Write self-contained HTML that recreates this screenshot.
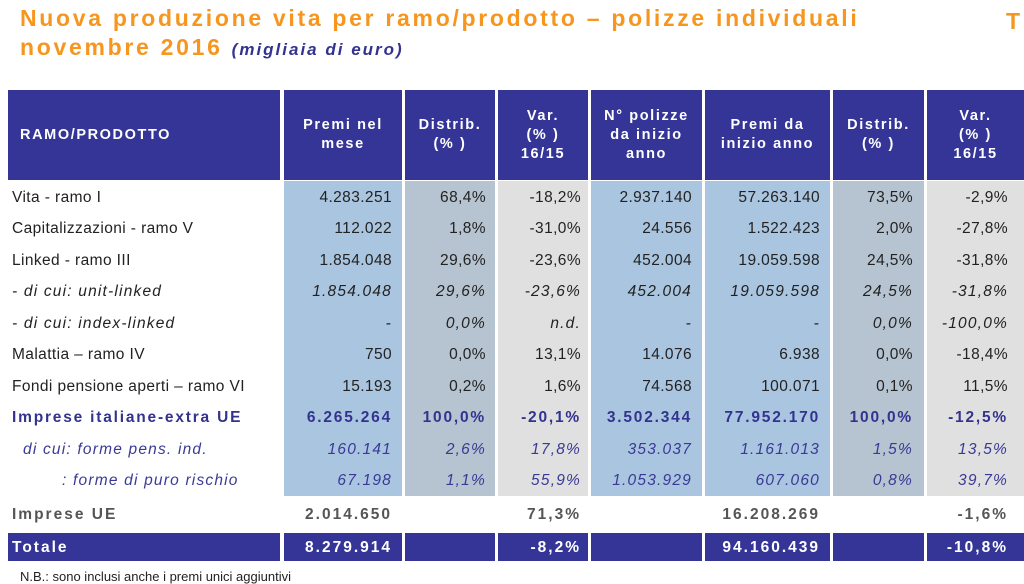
<!DOCTYPE html>
<html><head><meta charset="utf-8"><style>
body{margin:0;width:1024px;height:576px;overflow:hidden;background:#fff;font-family:"Liberation Sans",sans-serif;position:relative}
.t{position:absolute;left:20px;color:#f7961e;font-weight:bold;font-size:23px;letter-spacing:2.7px;white-space:nowrap}
.bg{position:absolute}
.h{position:absolute;top:90px;height:90px;background:#353597;color:#fff;font-weight:bold;font-size:14.5px;letter-spacing:1.6px;display:flex;align-items:center;justify-content:center;text-align:center;line-height:19px}
.r{position:absolute;left:0;width:1024px;height:31px;font-size:15.5px;color:#222;letter-spacing:0.4px}
.r span{position:absolute;top:0;line-height:31px;text-align:right;white-space:nowrap}
.c1{left:12px;text-align:left!important}
.c2{left:284px;width:108px}.c3{left:405px;width:81px}.c4{left:498px;width:83px}
.c5{left:591px;width:101px}.c6{left:705px;width:115px}.c7{left:833px;width:80px}.c8{left:927px;width:81px}
.it{font-style:italic;color:#222;letter-spacing:1.2px}
.bl{color:#33338f;font-weight:bold;letter-spacing:1.8px}
.bi{color:#3a3a96;font-style:italic;letter-spacing:1.2px}
.gr{color:#555;font-weight:bold;letter-spacing:2px}
.tot{color:#fff;font-weight:bold;letter-spacing:2px}
</style></head><body>
<div class="t" style="top:5px">Nuova produzione vita per ramo/prodotto – polizze individuali</div>
<div class="t" style="top:34px">novembre 2016 <span style="color:#33338f;font-style:italic;font-size:17px;letter-spacing:2px">(migliaia di euro)</span></div>
<div class="t" style="left:1006px;top:8px;letter-spacing:0">T</div>

<div class="h" style="left:8px;width:272px;justify-content:flex-start;padding-left:12px;box-sizing:border-box">RAMO/PRODOTTO</div>
<div class="h" style="left:284px;width:118px">Premi nel<br>mese</div>
<div class="h" style="left:405px;width:90px">Distrib.<br>(% )</div>
<div class="h" style="left:498px;width:90px">Var.<br>(% )<br>16/15</div>
<div class="h" style="left:591px;width:111px">N° polizze<br>da inizio<br>anno</div>
<div class="h" style="left:705px;width:125px">Premi da<br>inizio anno</div>
<div class="h" style="left:833px;width:91px">Distrib.<br>(% )</div>
<div class="h" style="left:927px;width:97px">Var.<br>(% )<br>16/15</div>

<div class="bg" style="left:284px;top:181px;width:118px;height:315px;background:#aac5df"></div>
<div class="bg" style="left:405px;top:181px;width:90px;height:315px;background:#b6c3d0"></div>
<div class="bg" style="left:498px;top:181px;width:90px;height:315px;background:#e0e0e0"></div>
<div class="bg" style="left:591px;top:181px;width:111px;height:315px;background:#aac5df"></div>
<div class="bg" style="left:705px;top:181px;width:125px;height:315px;background:#aac5df"></div>
<div class="bg" style="left:833px;top:181px;width:91px;height:315px;background:#b6c3d0"></div>
<div class="bg" style="left:927px;top:181px;width:97px;height:315px;background:#e0e0e0"></div>

<div class="bg" style="left:8px;top:533px;width:272px;height:28px;background:#353597"></div>
<div class="bg" style="left:284px;top:533px;width:118px;height:28px;background:#353597"></div>
<div class="bg" style="left:405px;top:533px;width:90px;height:28px;background:#353597"></div>
<div class="bg" style="left:498px;top:533px;width:90px;height:28px;background:#353597"></div>
<div class="bg" style="left:591px;top:533px;width:111px;height:28px;background:#353597"></div>
<div class="bg" style="left:705px;top:533px;width:125px;height:28px;background:#353597"></div>
<div class="bg" style="left:833px;top:533px;width:91px;height:28px;background:#353597"></div>
<div class="bg" style="left:927px;top:533px;width:97px;height:28px;background:#353597"></div>

<div class="r" style="top:182px"><span class="c1">Vita - ramo I</span><span class="c2">4.283.251</span><span class="c3">68,4%</span><span class="c4">-18,2%</span><span class="c5">2.937.140</span><span class="c6">57.263.140</span><span class="c7">73,5%</span><span class="c8">-2,9%</span></div>
<div class="r" style="top:213px"><span class="c1">Capitalizzazioni - ramo V</span><span class="c2">112.022</span><span class="c3">1,8%</span><span class="c4">-31,0%</span><span class="c5">24.556</span><span class="c6">1.522.423</span><span class="c7">2,0%</span><span class="c8">-27,8%</span></div>
<div class="r" style="top:245px"><span class="c1">Linked - ramo III</span><span class="c2">1.854.048</span><span class="c3">29,6%</span><span class="c4">-23,6%</span><span class="c5">452.004</span><span class="c6">19.059.598</span><span class="c7">24,5%</span><span class="c8">-31,8%</span></div>
<div class="r it" style="top:276px"><span class="c1">- di cui: unit-linked</span><span class="c2">1.854.048</span><span class="c3">29,6%</span><span class="c4">-23,6%</span><span class="c5">452.004</span><span class="c6">19.059.598</span><span class="c7">24,5%</span><span class="c8">-31,8%</span></div>
<div class="r it" style="top:308px"><span class="c1">- di cui: index-linked</span><span class="c2">-</span><span class="c3">0,0%</span><span class="c4">n.d.</span><span class="c5">-</span><span class="c6">-</span><span class="c7">0,0%</span><span class="c8">-100,0%</span></div>
<div class="r" style="top:339px"><span class="c1">Malattia – ramo IV</span><span class="c2">750</span><span class="c3">0,0%</span><span class="c4">13,1%</span><span class="c5">14.076</span><span class="c6">6.938</span><span class="c7">0,0%</span><span class="c8">-18,4%</span></div>
<div class="r" style="top:371px"><span class="c1">Fondi pensione aperti – ramo VI</span><span class="c2">15.193</span><span class="c3">0,2%</span><span class="c4">1,6%</span><span class="c5">74.568</span><span class="c6">100.071</span><span class="c7">0,1%</span><span class="c8">11,5%</span></div>
<div class="r bl" style="top:402px"><span class="c1">Imprese italiane-extra UE</span><span class="c2">6.265.264</span><span class="c3">100,0%</span><span class="c4">-20,1%</span><span class="c5">3.502.344</span><span class="c6">77.952.170</span><span class="c7">100,0%</span><span class="c8">-12,5%</span></div>
<div class="r bi" style="top:434px"><span class="c1" style="left:23px">di cui: forme pens. ind.</span><span class="c2">160.141</span><span class="c3">2,6%</span><span class="c4">17,8%</span><span class="c5">353.037</span><span class="c6">1.161.013</span><span class="c7">1,5%</span><span class="c8">13,5%</span></div>
<div class="r bi" style="top:465px"><span class="c1" style="left:62px">: forme di puro rischio</span><span class="c2">67.198</span><span class="c3">1,1%</span><span class="c4">55,9%</span><span class="c5">1.053.929</span><span class="c6">607.060</span><span class="c7">0,8%</span><span class="c8">39,7%</span></div>
<div class="r gr" style="top:499px"><span class="c1">Imprese UE</span><span class="c2">2.014.650</span><span class="c4">71,3%</span><span class="c6">16.208.269</span><span class="c8">-1,6%</span></div>
<div class="r tot" style="top:532px"><span class="c1">Totale</span><span class="c2">8.279.914</span><span class="c4">-8,2%</span><span class="c6">94.160.439</span><span class="c8">-10,8%</span></div>
<div style="position:absolute;left:20px;top:569px;font-size:13px;color:#222">N.B.: sono inclusi anche i premi unici aggiuntivi</div>
</body></html>
